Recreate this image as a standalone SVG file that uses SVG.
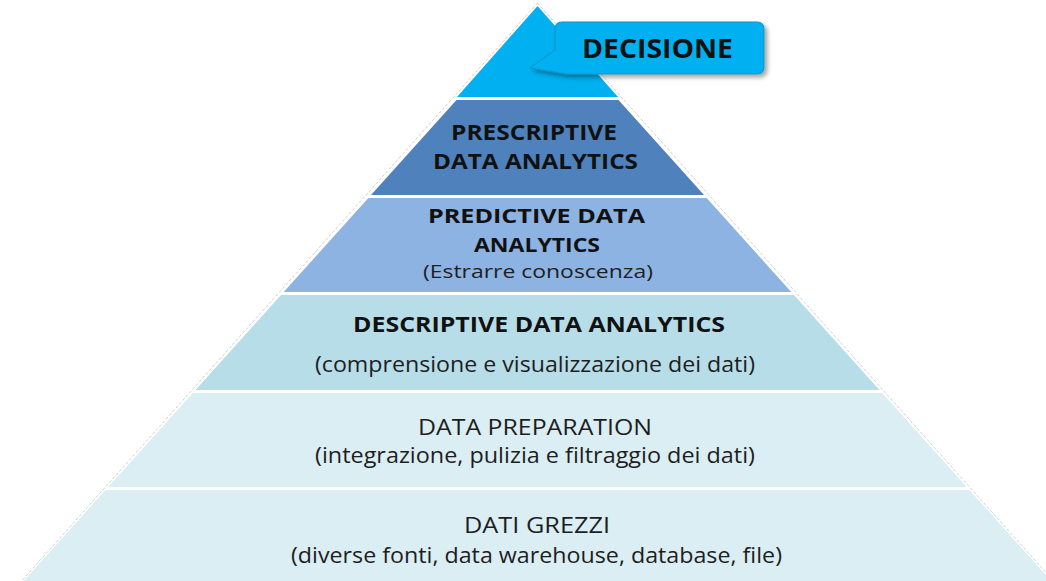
<svg xmlns="http://www.w3.org/2000/svg" width="1046" height="581" viewBox="0 0 1046 581">
<defs>
<filter id="sh" x="-10%" y="-20%" width="130%" height="160%">
<feDropShadow dx="3" dy="3" stdDeviation="2" flood-color="#000" flood-opacity="0.35"/>
</filter>
<style>
.layer{stroke:none}
.b{font-family:"Open Sans",Lato,"Liberation Sans",sans-serif;font-weight:bold;fill:#111;text-anchor:middle;font-variant-ligatures:none}
.r{font-family:"Open Sans",Lato,"Liberation Sans",sans-serif;font-weight:normal;fill:#1e1e1e;text-anchor:middle;font-variant-ligatures:none}
.edge{fill:none;stroke:#d0d0d0;stroke-width:1;stroke-dasharray:3 2}
</style>
</defs>
<rect width="1046" height="581" fill="#fff"/>
<g id="outline">
<path class="edge" d="M537.5 3 L18 585 M537.5 3 L1057 585"/>
</g>
<g id="layer-decisione-base">
<polygon class="layer" fill="#00B0F0" points="537.5,6 618,97 457,97"/>
</g>
<g id="layer-prescriptive">
<polygon class="layer" fill="#4F81BD" points="456.5,100 618.5,100 704,195 371,195"/>
<text class="b" x="534" y="140" font-size="21" textLength="166" lengthAdjust="spacingAndGlyphs">PRESCRIPTIVE</text>
<text class="b" x="535.5" y="169" font-size="21" textLength="205" lengthAdjust="spacingAndGlyphs">DATA ANALYTICS</text>
</g>
<g id="layer-predictive">
<polygon class="layer" fill="#8DB3E2" points="368.3,198 706.7,198 791.3,292 283.7,292"/>
<text class="b" x="536.5" y="223" font-size="20" textLength="217" lengthAdjust="spacingAndGlyphs">PREDICTIVE DATA</text>
<text class="b" x="537" y="251.5" font-size="20" textLength="126" lengthAdjust="spacingAndGlyphs">ANALYTICS</text>
<text class="r" x="538" y="278" font-size="19" textLength="230" lengthAdjust="spacingAndGlyphs">(Estrarre conoscenza)</text>
</g>
<g id="layer-descriptive">
<polygon class="layer" fill="#B7DDE8" points="281,295 794,295 879.5,390 195.5,390"/>
<text class="b" x="539" y="332" font-size="21" textLength="372" lengthAdjust="spacingAndGlyphs">DESCRIPTIVE DATA ANALYTICS</text>
<text class="r" x="535" y="372" font-size="21" textLength="440" lengthAdjust="spacingAndGlyphs">(comprensione e visualizzazione dei dati)</text>
</g>
<g id="layer-preparation">
<polygon class="layer" fill="#DBEEF4" points="192.8,393 882.2,393 966.8,487 108.2,487"/>
<text class="r" x="535" y="435" font-size="21" textLength="234" lengthAdjust="spacingAndGlyphs">DATA PREPARATION</text>
<text class="r" x="535" y="463" font-size="21" textLength="440" lengthAdjust="spacingAndGlyphs">(integrazione, pulizia e filtraggio dei dati)</text>
</g>
<g id="layer-grezzi">
<polygon class="layer" fill="#DBEEF4" points="105.5,490 969.5,490 1055,585 20,585"/>
<text class="r" x="537" y="533" font-size="21" textLength="146" lengthAdjust="spacingAndGlyphs">DATI GREZZI</text>
<text class="r" x="536.5" y="563" font-size="21" textLength="491" lengthAdjust="spacingAndGlyphs">(diverse fonti, data warehouse, database, file)</text>
</g>
<g id="callout-decisione">
<path filter="url(#sh)" fill="#00B0F0" stroke="#1391C4" stroke-width="1" d="M562 22 H757 Q764 22 764 29 V67 Q764 74 757 74 H566 L530 68 L555 50 V29 Q555 22 562 22 Z"/>
<text class="b" x="657.5" y="58" font-size="26" textLength="151" lengthAdjust="spacingAndGlyphs">DECISIONE</text>
</g>
</svg>
